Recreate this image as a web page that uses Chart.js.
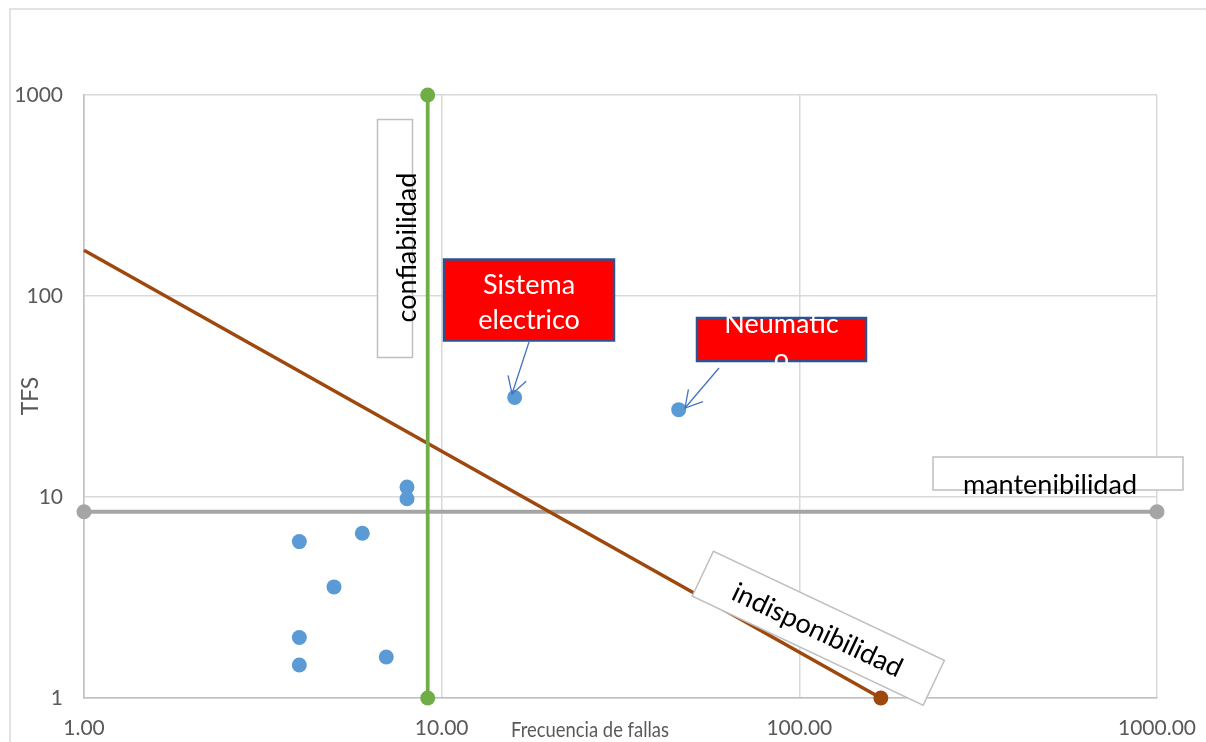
<!DOCTYPE html>
<html><head><meta charset="utf-8">
<script src="https://cdn.jsdelivr.net/npm/chart.js@4.4.1/dist/chart.umd.min.js"></script>
<style>html,body{margin:0;padding:0;background:#fff}#wrap{width:1206px;height:742px;position:relative}canvas{display:block}</style>
</head><body><div id="wrap"><canvas id="c" width="1206" height="742"></canvas></div>
<script>
// ---- data ----
const componentFreq = [4, 4, 4, 5, 6, 7, 8, 8, 16, 46];
const componentTFS  = [6.0, 2.0, 1.46, 3.57, 6.6, 1.6, 11.2, 9.8, 31.3, 27.2];
const confiabilidadX = [9.14, 9.14];
const confiabilidadY = [1, 1000];
const mantenibilidadX = [1, 1000];
const mantenibilidadY = [8.45, 8.45];
const indisponibilidadX = [1, 169];
const indisponibilidadY = [169, 1];
const xTickValues = [1, 10, 100, 1000];
const xTickLabels = ['1.00', '10.00', '100.00', '1000.00'];
const yTickValues = [1, 10, 100, 1000];
const yTickLabels = ['1', '10', '100', '1000'];
const xTitle = 'Frecuencia de fallas';
const yTitle = 'TFS';

const toPts = (xs, ys) => xs.map((x, i) => ({x: x, y: ys[i]}));
const FONT = 'Lato, "Open Sans", sans-serif';

function arrow(ctx, x1, y1, x2, y2) {
  ctx.save();
  ctx.strokeStyle = '#4472c4';
  ctx.lineWidth = 1.3;
  ctx.beginPath(); ctx.moveTo(x1, y1); ctx.lineTo(x2, y2); ctx.stroke();
  const a = Math.atan2(y1 - y2, x1 - x2);
  const L = 19, s = Math.PI / 6;
  ctx.beginPath();
  ctx.moveTo(x2 + L * Math.cos(a + s), y2 + L * Math.sin(a + s));
  ctx.lineTo(x2, y2);
  ctx.lineTo(x2 + L * Math.cos(a - s), y2 + L * Math.sin(a - s));
  ctx.stroke();
  ctx.restore();
}

const decor = {
  id: 'decor',
  beforeDraw(chart) {
    const ctx = chart.ctx;
    ctx.save();
    ctx.strokeStyle = '#d9d9d9';
    ctx.lineWidth = 1.5;
    ctx.strokeRect(10, 9, 1400, 1000);
    ctx.restore();
  },
  afterDraw(chart) {
    const ctx = chart.ctx;
    ctx.save();
    // axis titles
    ctx.fillStyle = '#595959';
    ctx.font = '21px ' + FONT;
    ctx.textAlign = 'center';
    ctx.textBaseline = 'middle';
    ctx.fillText(xTitle, 590, 730, 158);
    ctx.save();
    ctx.translate(31, 396);
    ctx.rotate(-Math.PI / 2);
    ctx.font = '23px ' + FONT;
    ctx.fillText(yTitle, 0, 0);
    ctx.restore();

    ctx.font = '27px ' + FONT;
    ctx.textBaseline = 'alphabetic';

    // confiabilidad
    ctx.fillStyle = '#fff';
    ctx.strokeStyle = '#bfbfbf';
    ctx.lineWidth = 1.5;
    ctx.fillRect(377.5, 119.5, 35, 238);
    ctx.strokeRect(377.5, 119.5, 35, 238);
    ctx.save();
    ctx.translate(416, 247.5);
    ctx.rotate(-Math.PI / 2);
    ctx.fillStyle = '#000';
    ctx.fillText('confiabilidad', 0, 0);
    ctx.restore();

    // Sistema electrico
    ctx.fillStyle = '#ff0000';
    ctx.fillRect(444, 259.5, 170, 81);
    ctx.strokeStyle = '#2f528f';
    ctx.lineWidth = 2.5;
    ctx.strokeRect(444, 259.5, 170, 81);
    ctx.fillStyle = '#fff';
    ctx.fillText('Sistema', 529, 294);
    ctx.fillText('electrico', 529, 329);
    arrow(ctx, 529, 342, 512, 394);

    // Neumatico
    ctx.fillStyle = '#ff0000';
    ctx.fillRect(697, 318, 169, 43);
    ctx.strokeStyle = '#2f528f';
    ctx.lineWidth = 2.5;
    ctx.strokeRect(697, 318, 169, 43);
    ctx.fillStyle = '#fff';
    ctx.fillText('Neumatic', 781.5, 333);
    ctx.fillText('o', 781.5, 368);
    arrow(ctx, 719, 368, 685, 408);

    // mantenibilidad
    ctx.fillStyle = '#fff';
    ctx.strokeStyle = '#bfbfbf';
    ctx.lineWidth = 1.5;
    ctx.fillRect(933, 457, 250, 33);
    ctx.strokeRect(933, 457, 250, 33);
    ctx.fillStyle = '#000';
    ctx.fillText('mantenibilidad', 1050, 494, 180);

    // indisponibilidad
    ctx.save();
    ctx.translate(818.3, 628.3);
    ctx.rotate(25.3 * Math.PI / 180);
    ctx.fillStyle = '#fff';
    ctx.fillRect(-127.75, -24.85, 255.5, 49.7);
    ctx.strokeRect(-127.75, -24.85, 255.5, 49.7);
    ctx.fillStyle = '#000';
    ctx.fillText('indisponibilidad', 0, 11);
    ctx.restore();

    ctx.restore();
  }
};

new Chart(document.getElementById('c'), {
  type: 'scatter',
  data: {
    datasets: [
      {label: 'Componentes', data: toPts(componentFreq, componentTFS), clip: false,
       backgroundColor: '#5b9bd5', borderColor: '#5b9bd5', pointRadius: 7.5, pointBorderWidth: 0, showLine: false},
      {label: 'confiabilidad', data: toPts(confiabilidadX, confiabilidadY), showLine: true, clip: false,
       borderColor: '#70ad47', backgroundColor: '#70ad47', borderWidth: 3.75, pointRadius: 7.5, pointBorderWidth: 0},
      {label: 'indisponibilidad', data: toPts(indisponibilidadX, indisponibilidadY), showLine: true, clip: false,
       borderColor: '#9e480e', backgroundColor: '#9e480e', borderWidth: 3.5, pointRadius: [0, 7.5], pointBorderWidth: 0},
      {label: 'mantenibilidad', data: toPts(mantenibilidadX, mantenibilidadY), showLine: true, clip: false,
       borderColor: '#a5a5a5', backgroundColor: '#a5a5a5', borderWidth: 4, pointRadius: 7.5, pointBorderWidth: 0}
    ]
  },
  options: {
    responsive: false,
    animation: false,
    layout: {padding: {left: 0, top: 95, right: 49, bottom: 0}},
    plugins: {legend: {display: false}, tooltip: {enabled: false}},
    scales: {
      x: {
        type: 'logarithmic', min: 1, max: 1000,
        afterBuildTicks: s => { s.ticks = xTickValues.map(v => ({value: v})); },
        afterFit: s => { s.height = 44; s.paddingLeft = 0; s.paddingRight = 0; },
        ticks: {callback: (v, i) => xTickLabels[i], autoSkip: false, maxRotation: 0, minRotation: 0,
                color: '#595959', font: {family: FONT, size: 21}, padding: 18},
        grid: {color: '#d9d9d9', lineWidth: 1.5, drawTicks: false},
        border: {color: '#bfbfbf', width: 1.5}
      },
      y: {
        type: 'logarithmic', min: 1, max: 1000,
        afterBuildTicks: s => { s.ticks = yTickValues.map(v => ({value: v})); },
        afterFit: s => { s.width = 84; s.paddingTop = 0; s.paddingBottom = 0; },
        ticks: {callback: (v, i) => yTickLabels[i], autoSkip: false,
                color: '#595959', font: {family: FONT, size: 21}, padding: 21},
        grid: {color: '#d9d9d9', lineWidth: 1.5, drawTicks: false},
        border: {color: '#bfbfbf', width: 1.5}
      }
    }
  },
  plugins: [decor]
});
</script>
</body></html>
